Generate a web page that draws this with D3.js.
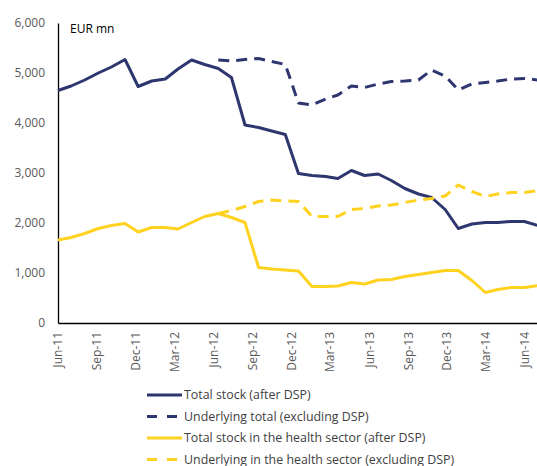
<!DOCTYPE html>
<html>
<head>
<meta charset="utf-8">
<script src="https://cdn.jsdelivr.net/npm/d3@7"></script>
<style>
  body { margin: 0; background: #fff; }
  svg text { font-family: "Open Sans", sans-serif; }
</style>
</head>
<body>
<div id="chart-area"></div>
<script>

// monthly observations, Jun-11 .. Jun-14
let parseMonth = d3.timeParse("%b-%y");
let formatMonth = d3.timeFormat("%b-%y");
let months = d3.timeMonth.range(parseMonth("Jun-11"), parseMonth("Jul-14"));

// axis labels every quarter
let xTickLabels = ["Jun-11", "Sep-11", "Dec-11", "Mar-12", "Jun-12", "Sep-12", "Dec-12",
	"Mar-13", "Jun-13", "Sep-13", "Dec-13", "Mar-14", "Jun-14"];

// EUR mn
let totalStock = [4650, 4740, 4860, 5000, 5120, 5270, 4730, 4840, 4880, 5080, 5260, 5170,
	5090, 4910, 3960, 3910, 3840, 3770, 2990, 2950, 2930, 2890, 3050, 2950,
	2980, 2850, 2690, 2580, 2510, 2270, 1890, 1980, 2010, 2010, 2030, 2030, 1950];

let underlyingTotal = [null, null, null, null, null, null, null, null, null, null, null, null,
	5260, 5240, 5270, 5290, 5230, 5170, 4400, 4360, 4480, 4560, 4740, 4710,
	4780, 4830, 4840, 4860, 5060, 4940, 4660, 4780, 4810, 4840, 4880, 4890, 4860];

let healthStock = [1660, 1710, 1790, 1890, 1950, 1990, 1820, 1910, 1910, 1880, 2010, 2130,
	2190, 2110, 2010, 1110, 1080, 1060, 1040, 730, 730, 740, 810, 780,
	860, 870, 930, 970, 1010, 1050, 1050, 850, 610, 670, 710, 710, 750];

let underlyingHealth = [null, null, null, null, null, null, null, null, null, null, null, null,
	2190, 2250, 2330, 2430, 2460, 2440, 2430, 2130, 2130, 2130, 2270, 2290,
	2340, 2360, 2410, 2460, 2490, 2540, 2760, 2630, 2530, 2580, 2610, 2610, 2650];

let yTicks = [0, 1000, 2000, 3000, 4000, 5000, 6000];

let seriesNames = ["Total stock (after DSP)", "Underlying total (excluding DSP)",
	"Total stock in the health sector (after DSP)", "Underlying in the health sector (excluding DSP)"];
let seriesValues = [totalStock, underlyingTotal, healthStock, underlyingHealth];
let seriesColors = ["#2e3670", "#2e3670", "#ffd21f", "#ffd21f"];
let seriesDashed = [false, true, false, true];

let margin = {top: 23, right: 0, bottom: 143, left: 58};
let width = 480;
let height = 300;

let svg = d3.select("#chart-area").append("svg")
		.attr("width", 537)
		.attr("height", 466)
	.append("g")
		.attr("transform", "translate(" + margin.left + "," + margin.top + ")");

let x = d3.scaleTime()
	.domain([months[0], months[months.length - 1]])
	.range([0, width]);

let y = d3.scaleLinear()
	.domain([0, 6000])
	.range([height, 0]);

// axes
let yAxis = d3.axisLeft(y)
	.tickValues(yTicks)
	.tickSize(0)
	.tickPadding(13)
	.tickFormat(d3.format(","));

let xAxis = d3.axisBottom(x)
	.tickValues(xTickLabels.map(parseMonth))
	.tickSize(0)
	.tickFormat(formatMonth);

let yAxisGroup = svg.append("g")
	.attr("class", "y-axis axis")
	.call(yAxis);

let xAxisGroup = svg.append("g")
	.attr("class", "x-axis axis")
	.attr("transform", "translate(0," + height + ")")
	.call(xAxis);

svg.selectAll(".axis .domain")
	.attr("stroke", "#000")
	.attr("stroke-width", 1.3);

yAxisGroup.selectAll("text")
	.attr("font-size", 12)
	.attr("fill", "#595959");

// labels sit a little left of the month positions in the original
xAxisGroup.selectAll(".tick")
	.attr("transform", (d, i) => "translate(" + (x(d) - i * 1.1) + ",0)");

xAxisGroup.selectAll("text")
	.attr("font-size", 12)
	.attr("fill", "#595959")
	.attr("text-anchor", "end")
	.attr("dy", "0.35em")
	.attr("transform", "translate(0,9) rotate(-90)")
	.attr("x", 0)
	.attr("y", 0);

svg.append("text")
	.attr("x", 12)
	.attr("y", 10)
	.attr("font-size", 12)
	.attr("fill", "#000")
	.text("EUR mn");

// lines
let line = d3.line()
	.defined(d => d != null)
	.x((d, i) => x(months[i]))
	.y(d => y(d));

seriesValues.forEach((vals, k) => {
	svg.append("path")
		.attr("fill", "none")
		.attr("stroke", seriesColors[k])
		.attr("stroke-width", 3)
		.attr("stroke-linejoin", "round")
		.attr("stroke-dasharray", seriesDashed[k] ? "11,7" : null)
		.attr("d", line(vals));
});

// legend
let legend = svg.append("g")
	.attr("transform", "translate(89,372)");

seriesNames.forEach((name, k) => {
	let row = legend.append("g")
		.attr("transform", "translate(0," + (k * 21.5) + ")");
	row.append("line")
		.attr("x1", 0)
		.attr("x2", 35)
		.attr("stroke", seriesColors[k])
		.attr("stroke-width", 3)
		.attr("stroke-dasharray", seriesDashed[k] ? "10,10" : null);
	row.append("text")
		.attr("x", 37)
		.attr("dy", "0.35em")
		.attr("font-size", 12.4)
		.attr("fill", "#404040")
		.text(name);
});

</script>
</body>
</html>
